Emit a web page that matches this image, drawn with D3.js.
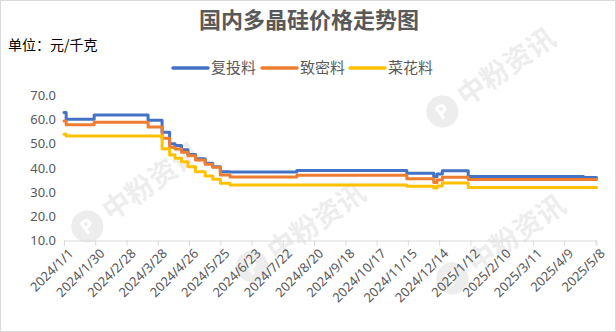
<!DOCTYPE html>
<html>
<head>
<meta charset="utf-8">
<script src="https://cdn.jsdelivr.net/npm/d3@7"></script>
<style>
  body { margin: 0; background: #fff; }
  text { font-family: "Noto Sans", "Noto Sans CJK SC", sans-serif; }
  .cjk { font-family: "Noto Sans CJK SC", sans-serif; }
</style>
</head>
<body>
<div id="chart"></div>
<script>
// change points of the price series (yuan/kg), each value holds until the next date
var dates = ['2024/1/1', '2024/1/3', '2024/1/29', '2024/3/19', '2024/4/1', '2024/4/8', '2024/4/13',
	'2024/4/19', '2024/4/25', '2024/5/2', '2024/5/11', '2024/5/18', '2024/5/25', '2024/6/3',
	'2024/8/4', '2024/11/14', '2024/12/9', '2024/12/12', '2024/12/17', '2025/1/10', '2025/4/27', '2025/5/9'];
var fuTou  = [63.0, 60.2, 61.9, 59.8, 54.8, 50.0, 49.3, 47.6, 45.6, 43.8, 42.0, 40.5, 38.5, 38.3,
	39.0, 37.8, 36.4, 37.5, 38.9, 36.5, 36.1, 36.1];
var zhiMi  = [59.5, 57.9, 58.9, 57.0, 52.3, 48.6, 47.9, 46.5, 45.1, 43.3, 41.6, 40.3, 37.1, 36.3,
	37.0, 35.6, 34.0, 35.0, 36.2, 35.2, 35.2, 35.2];
var caiHua = [54.0, 53.2, 53.2, 53.2, 48.0, 45.4, 44.0, 42.6, 40.5, 38.5, 36.7, 35.3, 33.7, 33.0,
	33.0, 32.4, 31.7, 32.6, 33.8, 31.9, 31.9, 31.9];

var seriesNames = ['复投料', '致密料', '菜花料'];
var yTicks = [10, 20, 30, 40, 50, 60, 70];
var xTickLabels = ['2024/1/1', '2024/1/30', '2024/2/28', '2024/3/28', '2024/4/26', '2024/5/25',
	'2024/6/23', '2024/7/22', '2024/8/20', '2024/9/18', '2024/10/17', '2024/11/15', '2024/12/14',
	'2025/1/12', '2025/2/10', '2025/3/11', '2025/4/9', '2025/5/8'];

var parse = d3.timeParse('%Y/%m/%d');
var W = 616, H = 332;

var svg = d3.select('#chart').append('svg').attr('width', W).attr('height', H);

svg.append('rect')
	.attr('x', 0.5).attr('y', 0.5)
	.attr('width', W - 1).attr('height', H - 1)
	.attr('fill', '#fff').attr('stroke', '#d9d9d9');

// faint watermarks
var marks = [[125, 200], [290, 240], [480, 85], [490, 252]];
marks.forEach(function(m) {
	var g = svg.append('g')
		.attr('transform', 'translate(' + m[0] + ',' + m[1] + ') rotate(-35)')
		.attr('opacity', 0.09);
	g.append('circle').attr('cx', -46).attr('cy', 0).attr('r', 16).attr('fill', '#444');
	g.append('text').attr('x', -46).attr('y', 7).attr('text-anchor', 'middle')
		.attr('font-size', 20).attr('font-weight', 'bold').attr('fill', '#fff').text('P');
	g.append('text').attr('class', 'cjk').attr('x', -24).attr('y', 10)
		.attr('font-size', 28).attr('font-weight', 'bold').attr('fill', '#444').text('中粉资讯');
});

var xScale = d3.scaleTime()
	.domain([parse(dates[0]), parse(dates[dates.length - 1])])
	.range([64, 596.5]);

var yScale = d3.scaleLinear()
	.domain([10, 70])
	.range([240.5, 95.5]);

// y labels
svg.append('g').selectAll('text')
	.data(yTicks)
	.enter()
	.append('text')
	.attr('x', 56)
	.attr('y', function(d) { return yScale(d); })
	.attr('dy', '0.35em')
	.attr('text-anchor', 'end')
	.attr('font-size', 13)
	.attr('fill', '#595959')
	.text(function(d) { return d3.format('.1f')(d); });

// x axis
var xAxis = d3.axisBottom(xScale)
	.tickValues(xTickLabels.map(parse))
	.tickSize(5)
	.tickFormat('');

var xAxisG = svg.append('g')
	.attr('transform', 'translate(0,240.5)')
	.call(xAxis);
xAxisG.select('.domain').attr('stroke', '#d9d9d9');
xAxisG.selectAll('.tick line').attr('stroke', '#d9d9d9');

svg.append('g').selectAll('text')
	.data(xTickLabels)
	.enter()
	.append('text')
	.attr('transform', function(d) {
		return 'translate(' + (xScale(parse(d)) + 7) + ',251) rotate(-45)';
	})
	.attr('text-anchor', 'end')
	.attr('dy', '0.35em')
	.attr('font-size', 13)
	.attr('fill', '#595959')
	.text(function(d) { return d; });

var color = d3.scaleOrdinal()
	.domain(seriesNames)
	.range(['#4472c4', '#ed7d31', '#ffc000']);

var seriesValues = [fuTou, zhiMi, caiHua];

var line = d3.line()
	.x(function(d) { return xScale(d.date); })
	.y(function(d) { return yScale(d.v); })
	.curve(d3.curveStepAfter);

seriesNames.forEach(function(name, k) {
	var pts = dates.map(function(d, i) { return { date: parse(d), v: seriesValues[k][i] }; });
	svg.append('path')
		.attr('d', line(pts))
		.attr('fill', 'none')
		.attr('stroke', color(name))
		.attr('stroke-width', 3)
		.attr('stroke-linejoin', 'round')
		.attr('stroke-linecap', 'round');
});

// title and unit
svg.append('text')
	.attr('class', 'cjk')
	.attr('x', 309).attr('y', 20)
	.attr('dy', '0.35em')
	.attr('text-anchor', 'middle')
	.attr('font-size', 22)
	.attr('font-weight', 'bold')
	.attr('fill', '#595959')
	.text('国内多晶硅价格走势图');

svg.append('text')
	.attr('class', 'cjk')
	.attr('x', 8).attr('y', 45)
	.attr('dy', '0.35em')
	.attr('font-size', 14)
	.attr('fill', '#000')
	.text('单位：元/千克');

// legend
var legendX = [173, 262, 350];
seriesNames.forEach(function(name, k) {
	var g = svg.append('g').attr('transform', 'translate(' + legendX[k] + ',68)');
	g.append('line')
		.attr('x1', 0).attr('x2', 35)
		.attr('stroke', color(name))
		.attr('stroke-width', 3.5)
		.attr('stroke-linecap', 'round');
	g.append('text')
		.attr('class', 'cjk')
		.attr('x', 38)
		.attr('dy', '0.35em')
		.attr('font-size', 15)
		.attr('fill', '#595959')
		.text(name);
});
</script>
</body>
</html>
